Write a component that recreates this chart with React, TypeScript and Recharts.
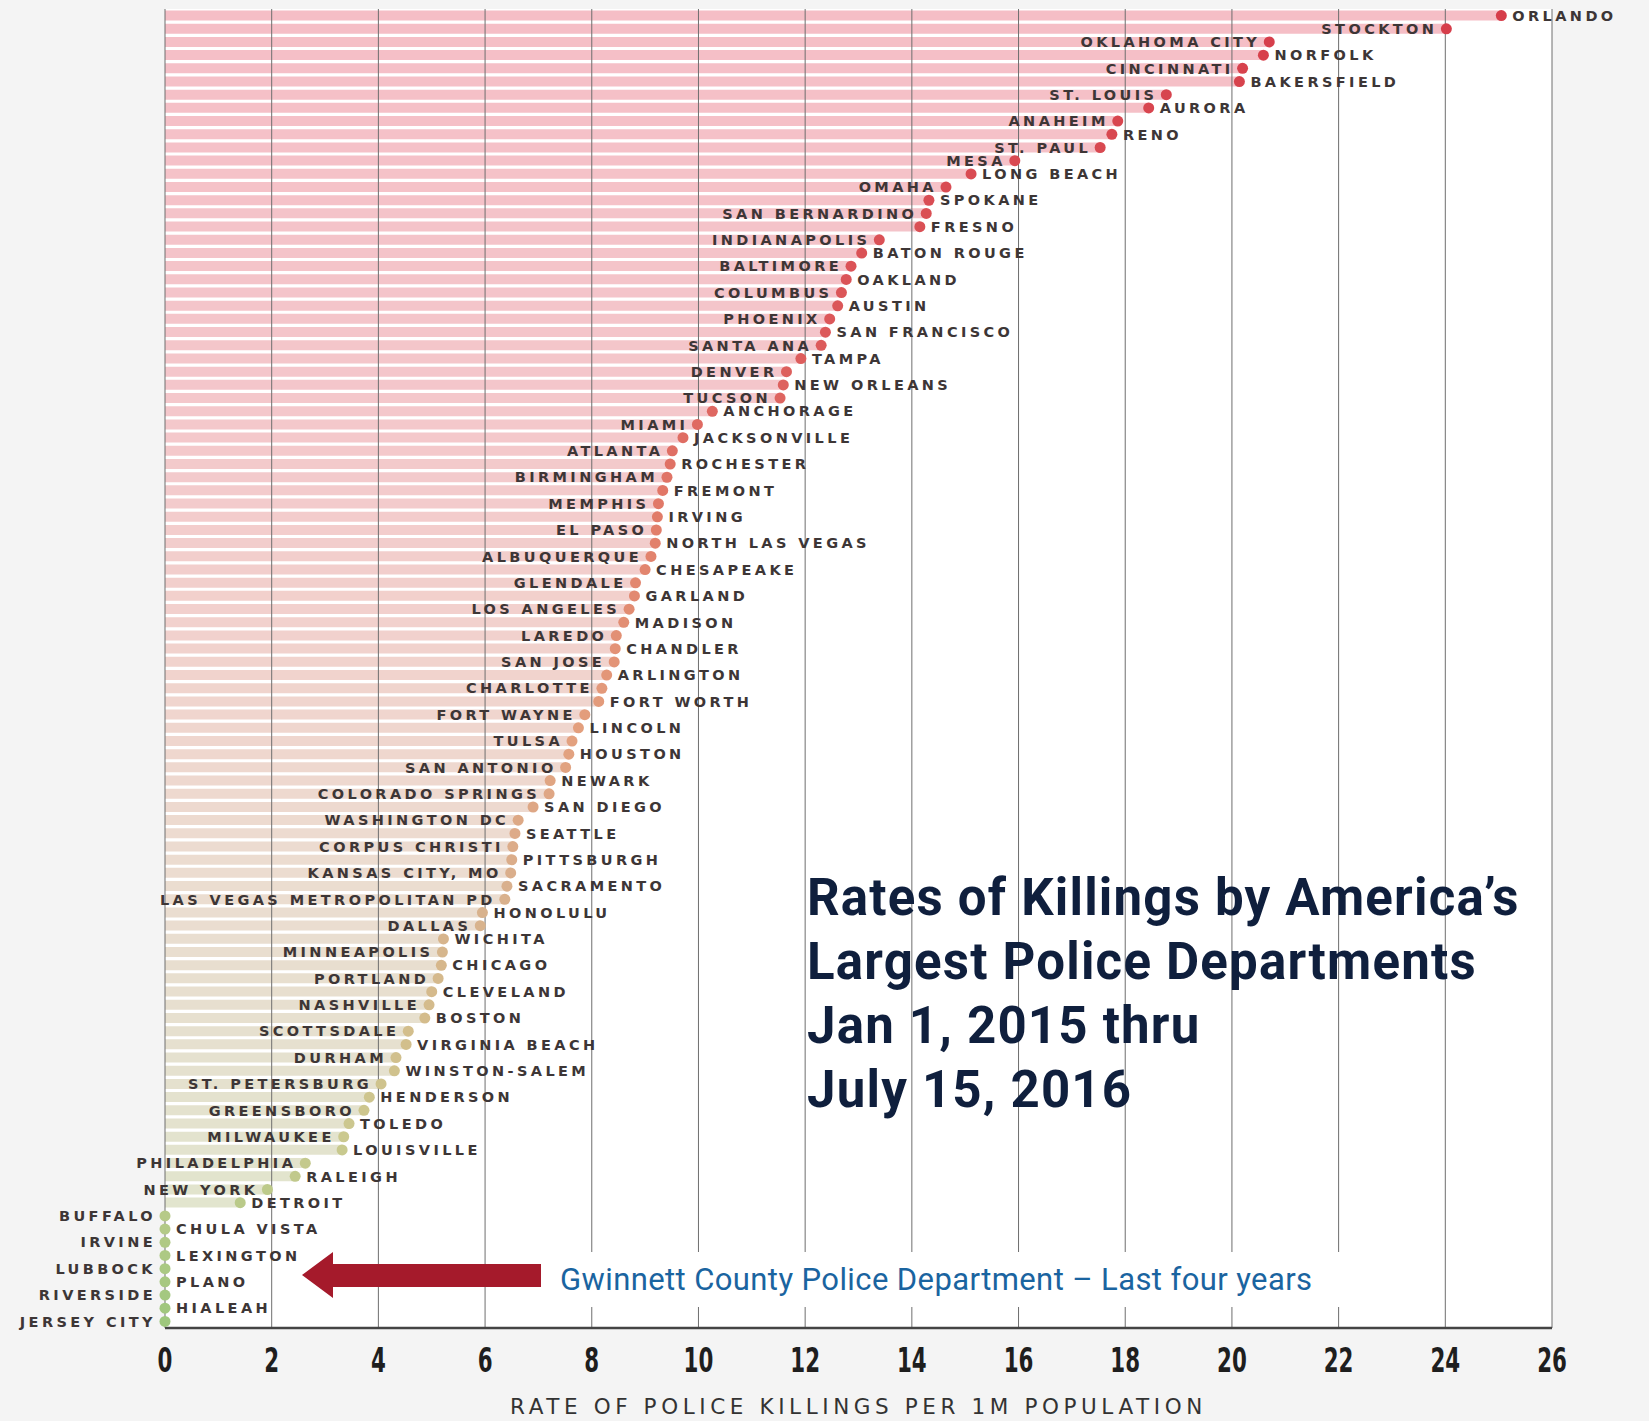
import React from 'react';
import { ComposedChart, Bar, Line, XAxis, YAxis, ReferenceLine, CartesianGrid, Cell } from 'recharts';

// cities in rank order (highest rate first)
const cities = [
  'ORLANDO', 'STOCKTON', 'OKLAHOMA CITY', 'NORFOLK', 'CINCINNATI', 'BAKERSFIELD', 'ST. LOUIS', 'AURORA',
  'ANAHEIM', 'RENO', 'ST. PAUL', 'MESA', 'LONG BEACH', 'OMAHA', 'SPOKANE', 'SAN BERNARDINO', 'FRESNO',
  'INDIANAPOLIS', 'BATON ROUGE', 'BALTIMORE', 'OAKLAND', 'COLUMBUS', 'AUSTIN', 'PHOENIX', 'SAN FRANCISCO',
  'SANTA ANA', 'TAMPA', 'DENVER', 'NEW ORLEANS', 'TUCSON', 'ANCHORAGE', 'MIAMI', 'JACKSONVILLE', 'ATLANTA',
  'ROCHESTER', 'BIRMINGHAM', 'FREMONT', 'MEMPHIS', 'IRVING', 'EL PASO', 'NORTH LAS VEGAS', 'ALBUQUERQUE',
  'CHESAPEAKE', 'GLENDALE', 'GARLAND', 'LOS ANGELES', 'MADISON', 'LAREDO', 'CHANDLER', 'SAN JOSE',
  'ARLINGTON', 'CHARLOTTE', 'FORT WORTH', 'FORT WAYNE', 'LINCOLN', 'TULSA', 'HOUSTON', 'SAN ANTONIO',
  'NEWARK', 'COLORADO SPRINGS', 'SAN DIEGO', 'WASHINGTON DC', 'SEATTLE', 'CORPUS CHRISTI', 'PITTSBURGH',
  'KANSAS CITY, MO', 'SACRAMENTO', 'LAS VEGAS METROPOLITAN PD', 'HONOLULU', 'DALLAS', 'WICHITA',
  'MINNEAPOLIS', 'CHICAGO', 'PORTLAND', 'CLEVELAND', 'NASHVILLE', 'BOSTON', 'SCOTTSDALE', 'VIRGINIA BEACH',
  'DURHAM', 'WINSTON-SALEM', 'ST. PETERSBURG', 'HENDERSON', 'GREENSBORO', 'TOLEDO', 'MILWAUKEE',
  'LOUISVILLE', 'PHILADELPHIA', 'RALEIGH', 'NEW YORK', 'DETROIT', 'BUFFALO', 'CHULA VISTA', 'IRVINE',
  'LEXINGTON', 'LUBBOCK', 'PLANO', 'RIVERSIDE', 'HIALEAH', 'JERSEY CITY',
];

// police killings per 1M population
const rates = [
  25.05, 24.02, 20.7, 20.59, 20.2, 20.14, 18.77, 18.44,
  17.86, 17.75, 17.53, 15.93, 15.11, 14.64, 14.32, 14.27, 14.15,
  13.39, 13.06, 12.86, 12.77, 12.68, 12.61, 12.46, 12.38,
  12.3, 11.92, 11.65, 11.59, 11.53, 10.26, 9.98, 9.71, 9.51,
  9.47, 9.41, 9.33, 9.25, 9.23, 9.21, 9.19, 9.11,
  9.0, 8.82, 8.8, 8.7, 8.6, 8.46, 8.44, 8.42,
  8.28, 8.19, 8.13, 7.87, 7.75, 7.63, 7.57, 7.51,
  7.22, 7.2, 6.9, 6.62, 6.56, 6.52, 6.5,
  6.48, 6.41, 6.37, 5.95, 5.91, 5.22,
  5.2, 5.18, 5.12, 5.0, 4.95, 4.87, 4.56, 4.52,
  4.33, 4.3, 4.05, 3.83, 3.73, 3.45, 3.35,
  3.32, 2.63, 2.44, 1.92, 1.41, 0, 0, 0,
  0, 0, 0, 0, 0, 0,
];

const xTicks = [0, 2, 4, 6, 8, 10, 12, 14, 16, 18, 20, 22, 24, 26];

const data = cities.map((name, i) => ({ name, value: rates[i] }));

const hex = (c: string) => [1, 3, 5].map((k) => parseInt(c.slice(k, k + 2), 16));

function ramp(stops: [number, string][], t: number) {
  for (let k = 1; k < stops.length; k++) {
    if (t <= stops[k][0]) {
      const [t0, c0] = stops[k - 1];
      const [t1, c1] = stops[k];
      const f = (t - t0) / (t1 - t0);
      const a = hex(c0), b = hex(c1);
      return `rgb(${a.map((v, j) => Math.round(v + (b[j] - v) * f)).join(',')})`;
    }
  }
  return stops[stops.length - 1][1];
}

const dotStops: [number, string][] = [
  [0, '#d63d4a'], [0.25, '#dc5a5b'], [0.4, '#e2806b'], [0.55, '#e3a07e'], [0.67, '#d9b08d'],
  [0.78, '#d3be8c'], [0.86, '#cbc98f'], [0.92, '#b6ca88'], [1, '#9ec77d'],
];
const barStops: [number, string][] = [
  [0, '#f5bec6'], [0.3, '#f4c7cb'], [0.5, '#f1d3cd'], [0.65, '#ecdcd0'], [0.78, '#e6e0cf'],
  [0.9, '#e2e4cd'], [1, '#e3ead5'],
];

const last = cities.length - 1;
const dotColor = (i: number) => ramp(dotStops, i / last);
const barColor = (i: number) => ramp(barStops, i / last);

function labelSide(i: number) {
  if (i === 0) return 'right';
  if (i <= 2) return 'left';
  if (i <= 9) return i % 2 ? 'right' : 'left';
  if (i <= 11) return 'left';
  return i % 2 ? 'left' : 'right';
}

const labelFont = "'DejaVu Sans', sans-serif";

const renderDot = (p: any) => {
  const { cx, cy, index } = p;
  const right = labelSide(index) === 'right';
  return (
    <g key={`dot-${index}`}>
      <circle cx={cx} cy={cy} r={5.5} fill={dotColor(index)} />
      <text
        x={right ? cx + 11 : cx - 9}
        y={cy + 5.2}
        textAnchor={right ? 'start' : 'end'}
        fontFamily={labelFont}
        fontWeight="bold"
        fontSize={14.5}
        letterSpacing={3.4}
        fill="#3d3636"
      >
        {cities[index]}
      </text>
    </g>
  );
};

const Tick = ({ x, y, payload }: any) => (
  <text
    transform={`translate(${x},${y + 36}) scale(0.72,1)`}
    textAnchor="middle"
    fontFamily="'Liberation Sans Narrow', 'DejaVu Sans Condensed', sans-serif"
    fontWeight="bold"
    fontSize={33}
    fill="#1e1e1e"
  >
    {payload.value}
  </text>
);

const AxisTitle = (p: any) => {
  const vb = p.viewBox;
  return (
    <text
      x={vb.x + vb.width / 2}
      y={vb.y + 86}
      textAnchor="middle"
      fontFamily={labelFont}
      fontSize={21.5}
      letterSpacing={4.6}
      fill="#333"
    >
      RATE OF POLICE KILLINGS PER 1M POPULATION
    </text>
  );
};

export default function App() {
  return (
    <div style={{ position: 'absolute', left: 0, top: 0, width: 1649, height: 1421, background: '#f4f4f4' }}>
      <ComposedChart
        width={1649}
        height={1421}
        data={data}
        layout="vertical"
        margin={{ top: 9, right: 97, bottom: 0, left: 165 }}
        barCategoryGap={1.5}
      >
        <CartesianGrid horizontal={false} vertical={false} fill="#ffffff" />
        <XAxis
          type="number"
          domain={[0, 26]}
          ticks={xTicks}
          height={93}
          tickLine={false}
          axisLine={{ stroke: '#444', strokeWidth: 2.5 }}
          tick={<Tick />}
          label={{ content: AxisTitle }}
        />
        <YAxis type="category" dataKey="name" hide />
        <Bar dataKey="value" isAnimationActive={false}>
          {data.map((d, i) => (
            <Cell key={d.name} fill={barColor(i)} />
          ))}
        </Bar>
        {xTicks.map((t) => (
          <ReferenceLine key={t} x={t} stroke="#6e6e6e" strokeWidth={1} />
        ))}
        <Line
          dataKey="value"
          stroke="none"
          isAnimationActive={false}
          dot={renderDot}
          activeDot={false}
        />
      </ComposedChart>

      <div
        style={{
          position: 'absolute',
          left: 807,
          top: 866,
          fontFamily: 'Roboto, sans-serif',
          fontWeight: 700,
          fontSize: 51,
          letterSpacing: 1.2,
          lineHeight: '64px',
          color: '#0f1f3d',
          whiteSpace: 'nowrap',
        }}
      >
        Rates of Killings by America’s
        <br />
        Largest Police Departments
        <br />
        Jan 1, 2015 thru
        <br />
        July 15, 2016
      </div>

      <div
        style={{
          position: 'absolute',
          left: 540,
          top: 1252,
          width: 903,
          height: 55,
          background: '#ffffff',
          fontFamily: 'Roboto, sans-serif',
          fontSize: 31,
          letterSpacing: 0.4,
          lineHeight: '55px',
          color: '#1a64a0',
          paddingLeft: 20,
          boxSizing: 'border-box',
          whiteSpace: 'nowrap',
        }}
      >
        Gwinnett County Police Department – Last four years
      </div>

      <svg style={{ position: 'absolute', left: 290, top: 1245, overflow: 'visible' }} width={260} height={60}>
        <polygon points="12,30 43,7 43,19 251,19 251,42 43,42 43,53" fill="#a51a2b" />
      </svg>
    </div>
  );
}
